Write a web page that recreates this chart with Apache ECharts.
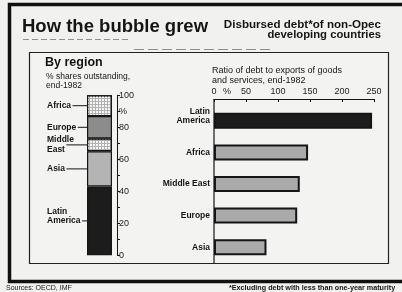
<!DOCTYPE html>
<html>
<head>
<meta charset="utf-8">
<script src="https://cdn.jsdelivr.net/npm/echarts@6/dist/echarts.min.js"></script>
<style>
  html, body { margin: 0; padding: 0; background: #f1f1ef; }
  #main { width: 402px; height: 292px; }
</style>
</head>
<body>
<div id="main"></div>
<script>
// left panel: % shares outstanding, end-1982 (stacked bottom -> top)
var shareRegions = ["Latin\nAmerica", "Asia", "Middle\nEast", "Europe", "Africa"];
var shareValues = [43, 22, 8, 14, 13];
var shareColors = ["#1c1c1c", "#b4b4b4", "#b2b2b2", "#8c8c8c", "#b2b2b2"];
var shareDotted = [false, false, true, false, true];

// right panel: ratio of debt to exports of goods and services, end-1982
var ratioRegions = ["Latin\nAmerica", "Africa", "Middle East", "Europe", "Asia"];
var ratioValues = [247, 147, 134, 130, 82];
var ratioColors = ["#1c1c1c", "#aaaaaa", "#aaaaaa", "#aaaaaa", "#aaaaaa"];

var font = "Liberation Sans, Arial, sans-serif";
var ink = "#151515";

var myChart = echarts.init(document.getElementById("main"));

var gridL = { left: 87, top: 95.3, width: 25, height: 160 };
var gridR = { left: 214, top: 105, right: 28, height: 158 };

var dotDecal = {
  symbol: "rect",
  symbolSize: 1,
  dashArrayX: [2, 1],
  dashArrayY: [2, 1],
  color: "#f6f6f6"
};

var shareSeries = shareValues.map(function (v, i) {
  return {
    type: "bar",
    name: shareRegions[i],
    stack: "share",
    xAxisIndex: 0,
    yAxisIndex: 0,
    barWidth: "100%",
    data: [v],
    itemStyle: {
      color: shareColors[i],
      borderColor: ink,
      borderWidth: 1.2,
      decal: shareDotted[i] ? dotDecal : null
    },
    silent: true
  };
});

function txt(text, x, y, size, weight, align) {
  return {
    type: "text", silent: true,
    style: {
      text: text, x: x, y: y,
      font: (weight || "normal") + " " + size + "px " + font,
      fill: ink, align: align || "left", verticalAlign: "middle"
    }
  };
}

var option = {
  animation: false,
  backgroundColor: "#f1f1ef",
  grid: [
    { left: gridL.left, top: gridL.top, width: gridL.width, height: gridL.height },
    { left: gridR.left, top: gridR.top, right: gridR.right, height: gridR.height }
  ],
  xAxis: [
    {
      gridIndex: 0, type: "category", data: [""],
      axisLine: { show: false }, axisTick: { show: false }, axisLabel: { show: false }
    },
    {
      gridIndex: 1, type: "value", position: "top", offset: 6,
      min: 0, max: 250, interval: 50,
      axisLine: { show: true, lineStyle: { color: ink, width: 1 } },
      axisTick: { show: true, inside: true, length: 3, lineStyle: { color: ink } },
      splitLine: { show: false },
      axisLabel: {
        margin: 3, fontFamily: font, fontSize: 9, color: "#222",
        formatter: function (v) { return v === 0 ? "{pad|}{z|0}{p|%}" : v; },
        rich: {
          pad: { width: 14 },
          z: { width: 6, align: "center", fontFamily: font, fontSize: 9, color: "#222" },
          p: { width: 14, align: "right", fontFamily: font, fontSize: 9, color: "#222" }
        }
      }
    }
  ],
  yAxis: [
    {
      gridIndex: 0, type: "value", position: "right", offset: 5,
      min: 0, max: 100, interval: 10,
      axisLine: { show: true, lineStyle: { color: ink, width: 1 } },
      axisTick: { show: true, length: 3, lineStyle: { color: ink } },
      splitLine: { show: false },
      axisLabel: {
        margin: 2, fontFamily: font, fontSize: 9, color: "#222",
        formatter: function (v) {
          if (v === 90) return "%";
          return v % 20 === 0 ? v : "";
        }
      }
    },
    {
      gridIndex: 1, type: "category", inverse: true, data: ratioRegions,
      axisLine: { show: false }, axisTick: { show: false },
      axisLabel: {
        margin: 4, fontFamily: font, fontSize: 8.5, fontWeight: "bold",
        color: ink, lineHeight: 9,
        // two-line label sits a line high, as in the print
        formatter: function (v) { return v.indexOf("\n") >= 0 ? v + "\n " : v; }
      }
    }
  ],
  series: shareSeries.concat([
    {
      type: "bar",
      xAxisIndex: 1,
      yAxisIndex: 1,
      barWidth: 16,
      silent: true,
      data: ratioValues.map(function (v, i) {
        return { value: v, itemStyle: { color: ratioColors[i] } };
      }),
      itemStyle: { borderColor: ink, borderWidth: 2 }
    }
  ])
};

myChart.setOption(option);

// label + leader lines for the stacked bar, placed from the chart's own scale
var ctx = document.createElement("canvas").getContext("2d");
ctx.font = "bold 8.5px " + font;
var graphics = [
  // outer heavy frame and inner box
  { type: "rect", shape: { x: 9.5, y: 4.5, width: 402, height: 277 },
    style: { fill: null, stroke: "#111", lineWidth: 3.5 }, silent: true },
  { type: "rect", shape: { x: 29.5, y: 52.5, width: 359, height: 211 },
    style: { fill: "#f3f3f1", stroke: "#222", lineWidth: 1.2 }, silent: true, z: -1 },
  // print rules under the headings
  { type: "line", shape: { x1: 23, y1: 39.5, x2: 130, y2: 39.5 },
    style: { stroke: "#777", lineWidth: 0.8, lineDash: [6, 3] }, silent: true },
  { type: "line", shape: { x1: 134, y1: 49.5, x2: 270, y2: 49.5 },
    style: { stroke: "#777", lineWidth: 0.8, lineDash: [10, 4] }, silent: true },
  // left edge of the ratio panel
  { type: "line", shape: { x1: gridR.left, y1: gridR.top - 6, x2: gridR.left, y2: gridR.top + gridR.height },
    style: { stroke: ink, lineWidth: 1.2 }, silent: true },
  // headings and notes
  txt("How the bubble grew", 22, 27, 18.5, "bold"),
  txt("Disbursed debt*of non-Opec", 381, 24.5, 11.6, "bold", "right"),
  txt("developing countries", 381, 34.5, 11.3, "bold", "right"),
  txt("By region", 45, 63, 12.5, "bold"),
  txt("% shares outstanding,", 46, 76.5, 8.5),
  txt("end-1982", 46, 85.5, 8.5),
  txt("Ratio of debt to exports of goods", 212, 71, 9),
  txt("and services, end-1982", 212, 80.5, 9),
  txt("Sources: OECD, IMF", 6, 288.5, 7),
  txt("*Excluding debt with less than one-year maturity", 229, 288.5, 7.2, "bold")
];

var cum = 0;
shareValues.forEach(function (v, i) {
  var mid = cum + v / 2;
  cum += v;
  var p = myChart.convertToPixel({ gridIndex: 0 }, [0, mid]);
  var lines = shareRegions[i].split("\n");
  var lastW = ctx.measureText(lines[lines.length - 1]).width;
  var textY = lines.length > 1 && i === 0 ? p[1] - 4.5 : p[1];
  var leaderStart = 47 + lastW + 1.5;
  graphics.push({
    type: "text", silent: true,
    style: {
      text: shareRegions[i], x: 47, y: textY,
      font: "bold 8.5px " + font, fill: ink,
      verticalAlign: "middle", lineHeight: 9.5
    }
  });
  graphics.push({
    type: "line", silent: true,
    shape: { x1: leaderStart, y1: p[1], x2: gridL.left, y2: p[1] },
    style: { stroke: ink, lineWidth: 1 }
  });
});

myChart.setOption({ graphic: graphics });
</script>
</body>
</html>
